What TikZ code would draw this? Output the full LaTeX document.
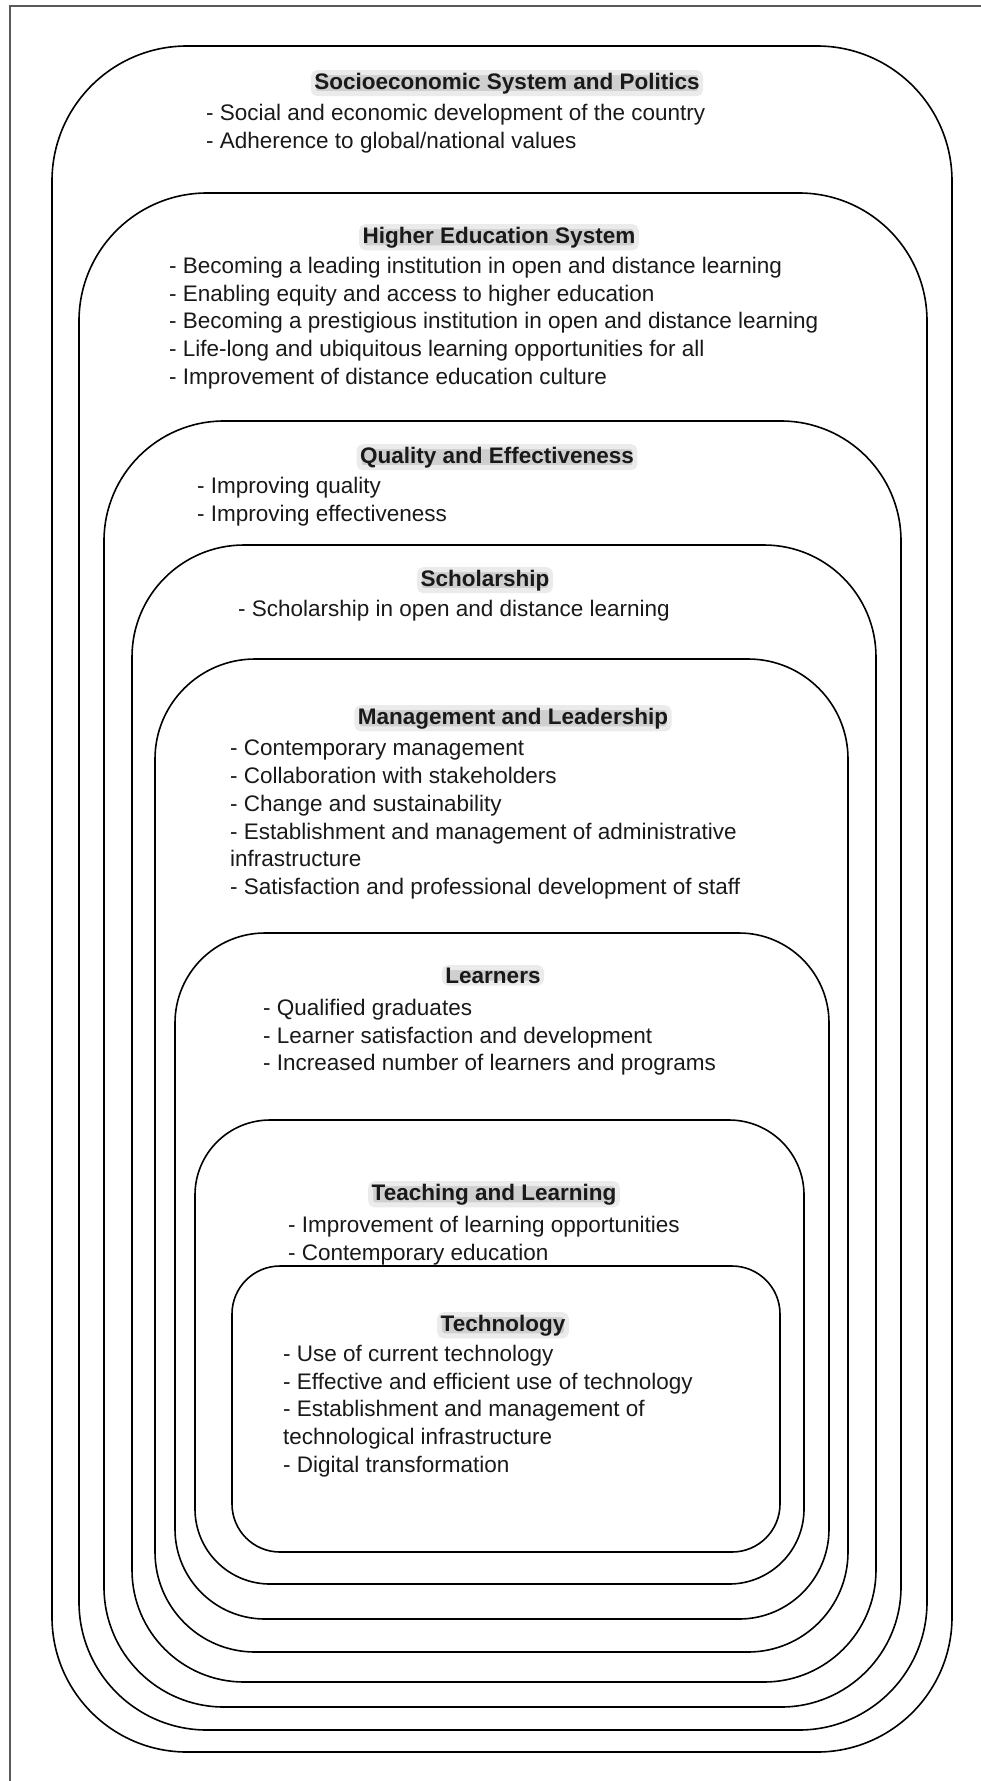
\documentclass[tikz,border=0pt]{standalone}
\usepackage{fontspec}
\setmainfont{Liberation Sans}
\begin{document}
\begin{tikzpicture}[x=1pt,y=-1pt,
	layer/.style={draw=black,line width=1.6pt},
	head/.style={font=\fontsize{22.5}{27.7}\selectfont\bfseries,text=black!90,fill=black!19,draw=black!8,line width=5pt,inner xsep=1pt,inner ysep=0pt,rounded corners=4pt,anchor=base},
	items/.style={font=\fontsize{22.5}{27.7}\selectfont,text=black!90,align=left,anchor=north west,inner sep=0pt}]
	\useasboundingbox (0,0) rectangle (981,1781);
	% outer frame
	\draw[black!65,line width=1.2pt] (10,1781) -- (10,6) -- (981,6);
	
	% nested layers, outside in
	\draw[layer,rounded corners=135pt] (52,46) rectangle (952,1752);
	\draw[layer,rounded corners=128pt] (79,193) rectangle (927,1730);
	\draw[layer,rounded corners=120pt] (104,421) rectangle (901,1707);
	\draw[layer,rounded corners=112pt] (132,545) rectangle (876,1682);
	\draw[layer,rounded corners=100pt] (155,659) rectangle (848,1652);
	\draw[layer,rounded corners=90pt] (175,933) rectangle (829,1619);
	\draw[layer,rounded corners=75pt] (195,1120) rectangle (804,1584);
	\draw[layer,rounded corners=48pt] (232,1266) rectangle (780,1552);
	
	\node (socT) [head] at (507,89) {Socioeconomic System and Politics};
	\node (socL) [items] at (206,104) {- Social and economic development of the country\\
		- Adherence to global/national values};
	
	\node (hesT) [head] at (499,243) {Higher Education System};
	\node (hesL) [items] at (169,257) {- Becoming a leading institution in open and distance learning\\
		- Enabling equity and access to higher education\\
		- Becoming a prestigious institution in open and distance learning\\
		- Life-long and ubiquitous learning opportunities for all\\
		- Improvement of distance education culture};
	
	\node (qualT) [head] at (497,463) {Quality and Effectiveness};
	\node (qualL) [items] at (197,477) {- Improving quality\\
		- Improving effectiveness};
	
	\node (schT) [head] at (485,586) {Scholarship};
	\node (schL) [items] at (238,600) {- Scholarship in open and distance learning};
	
	\node (mgmtT) [head] at (513,724) {Management and Leadership};
	\node (mgmtL) [items] at (230,740) {- Contemporary management\\
		- Collaboration with stakeholders\\
		- Change and sustainability\\
		- Establishment and management of administrative\\
		infrastructure\\
		- Satisfaction and professional development of staff};
	
	\node (lrnT) [head] at (493,983) {Learners};
	\node (lrnL) [items] at (263,999) {- Qualified graduates\\
		- Learner satisfaction and development\\
		- Increased number of learners and programs};
	
	\node (tlT) [head] at (494,1200) {Teaching and Learning};
	\node (tlL) [items] at (288,1216) {- Improvement of learning opportunities\\
		- Contemporary education};
	
	\node (techT) [head] at (503,1331) {Technology};
	\node (techL) [items] at (283,1345) {- Use of current technology\\
		- Effective and efficient use of technology\\
		- Establishment and management of\\
		technological infrastructure\\
		- Digital transformation};
\end{tikzpicture}
\end{document}
